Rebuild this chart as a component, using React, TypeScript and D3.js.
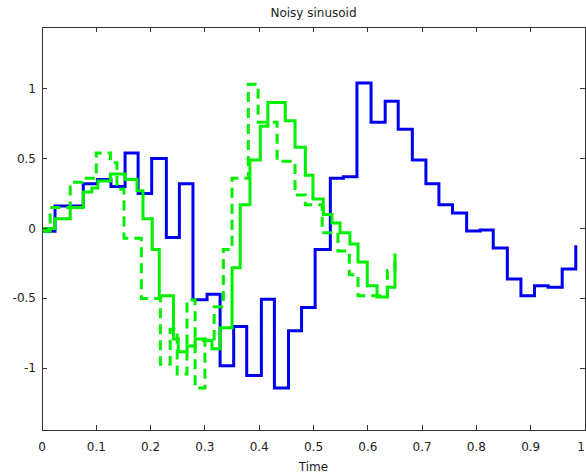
import React from "react";
import * as d3 from "d3";

const W = 586;
const H = 475;

const titleText = "Noisy sinusoid";
const xLabelText = "Time";

const xTicks = [0, 0.1, 0.2, 0.3, 0.4, 0.5, 0.6, 0.7, 0.8, 0.9, 1];
const xTickLabels = ["0", "0.1", "0.2", "0.3", "0.4", "0.5", "0.6", "0.7", "0.8", "0.9", "1"];
const yTicks = [-1, -0.5, 0, 0.5, 1];
const yTickLabels = ["-1", "-0.5", "0", "0.5", "1"];

// Blue solid stairs
const blueTime = [0, 0.024, 0.05, 0.076, 0.102, 0.127, 0.153, 0.177, 0.202, 0.229, 0.253, 0.278, 0.304, 0.328, 0.353, 0.377, 0.404, 0.428, 0.454, 0.478, 0.503, 0.531, 0.555, 0.58, 0.606, 0.632, 0.656, 0.682, 0.707, 0.731, 0.756, 0.782, 0.807, 0.831, 0.857, 0.882, 0.907, 0.932, 0.958, 0.983];
const blueValue = [-0.02, 0.16, 0.16, 0.32, 0.35, 0.3, 0.54, 0.25, 0.5, -0.065, 0.32, -0.51, -0.47, -0.98, -0.7, -1.05, -0.505, -1.14, -0.73, -0.565, -0.15, 0.36, 0.37, 1.04, 0.76, 0.91, 0.71, 0.49, 0.32, 0.17, 0.11, -0.017, -0.01, -0.14, -0.36, -0.48, -0.41, -0.42, -0.29, -0.12];

// Green solid stairs
const greenTime = [0, 0.024, 0.052, 0.076, 0.092, 0.103, 0.126, 0.153, 0.175, 0.186, 0.203, 0.216, 0.242, 0.251, 0.267, 0.282, 0.297, 0.313, 0.328, 0.35, 0.365, 0.383, 0.402, 0.416, 0.448, 0.466, 0.485, 0.499, 0.518, 0.534, 0.549, 0.567, 0.582, 0.599, 0.617, 0.636, 0.65];
const greenValue = [0.0, 0.07, 0.15, 0.26, 0.29, 0.34, 0.39, 0.35, 0.27, 0.07, -0.15, -0.48, -0.79, -0.88, -0.84, -0.79, -0.8, -0.86, -0.71, -0.28, 0.17, 0.49, 0.73, 0.9, 0.77, 0.58, 0.38, 0.21, 0.1, 0.04, -0.03, -0.11, -0.24, -0.41, -0.49, -0.42, -0.18];

// Green dashed stairs
const dashTime = [0, 0.015, 0.052, 0.074, 0.1, 0.126, 0.138, 0.151, 0.183, 0.218, 0.236, 0.249, 0.267, 0.282, 0.3, 0.317, 0.334, 0.35, 0.38, 0.398, 0.433, 0.466, 0.485, 0.516, 0.545, 0.566, 0.582, 0.636, 0.65];
const dashValue = [-0.02, 0.15, 0.33, 0.36, 0.54, 0.47, 0.28, -0.07, -0.5, -0.97, -0.72, -1.04, -0.51, -1.14, -0.79, -0.56, -0.15, 0.36, 1.03, 0.76, 0.48, 0.24, 0.17, -0.03, -0.16, -0.33, -0.48, -0.3, -0.18];

const xDomain = [0, 1];
const yDomain = [-1.44, 1.44];

const FONT = "'DejaVu Sans', Verdana, sans-serif";

export default function App() {
  const left = 42;
  const right = 585;
  const top = 27;
  const bottom = 430;

  const x = d3.scaleLinear().domain(xDomain).range([left, right]);
  const y = d3.scaleLinear().domain(yDomain).range([bottom, top]);

  const line = d3
    .line<[number, number]>()
    .x((d) => x(d[0]))
    .y((d) => y(d[1]))
    .curve(d3.curveStepAfter);

  const toPts = (t: number[], v: number[]) => t.map((ti, i) => [ti, v[i]] as [number, number]);

  const tickLen = 5;
  const axisColor = "#333";

  return (
    <svg
      width={W}
      height={H}
      style={{ position: "absolute", left: 0, top: 0, background: "#fff" }}
      fontFamily={FONT}
    >
      <rect x={0} y={0} width={W} height={H} fill="#fff" />
      <defs>
        <clipPath id="plotclip">
          <rect x={left} y={top} width={right - left} height={bottom - top} />
        </clipPath>
      </defs>

      <g clipPath="url(#plotclip)" fill="none" strokeLinejoin="miter" strokeLinecap="butt">
        <path d={line(toPts(blueTime, blueValue)) || ""} stroke="#0000f0" strokeWidth={3} />
        <path d={line(toPts(greenTime, greenValue)) || ""} stroke="#00f000" strokeWidth={3} />
        <path
          d={line(toPts(dashTime, dashValue)) || ""}
          stroke="#00f000"
          strokeWidth={3}
          strokeDasharray="10,6"
        />
      </g>

      {/* axes box */}
      <rect
        x={left}
        y={top}
        width={right - left}
        height={bottom - top}
        fill="none"
        stroke={axisColor}
        strokeWidth={1}
        shapeRendering="crispEdges"
      />

      {/* x ticks */}
      {xTicks.map((t, i) => (
        <g key={"xt" + i}>
          <line x1={x(t)} x2={x(t)} y1={bottom} y2={bottom - tickLen} stroke={axisColor} shapeRendering="crispEdges" />
          <line x1={x(t)} x2={x(t)} y1={top} y2={top + tickLen} stroke={axisColor} shapeRendering="crispEdges" />
          <text
            x={Math.min(x(t), W - 5)}
            y={451}
            textAnchor="middle"
            fontSize={12}
            fill="#222"
          >
            {xTickLabels[i]}
          </text>
        </g>
      ))}

      {/* y ticks */}
      {yTicks.map((t, i) => (
        <g key={"yt" + i}>
          <line x1={left} x2={left + tickLen} y1={y(t)} y2={y(t)} stroke={axisColor} shapeRendering="crispEdges" />
          <line x1={right} x2={right - tickLen} y1={y(t)} y2={y(t)} stroke={axisColor} shapeRendering="crispEdges" />
          <text x={36} y={y(t) + 4} textAnchor="end" fontSize={12} fill="#222">
            {yTickLabels[i]}
          </text>
        </g>
      ))}

      <text x={(left + right) / 2} y={17} textAnchor="middle" fontSize={12} fill="#222">
        {titleText}
      </text>
      <text x={(left + right) / 2} y={471} textAnchor="middle" fontSize={12} fill="#222">
        {xLabelText}
      </text>
    </svg>
  );
}
